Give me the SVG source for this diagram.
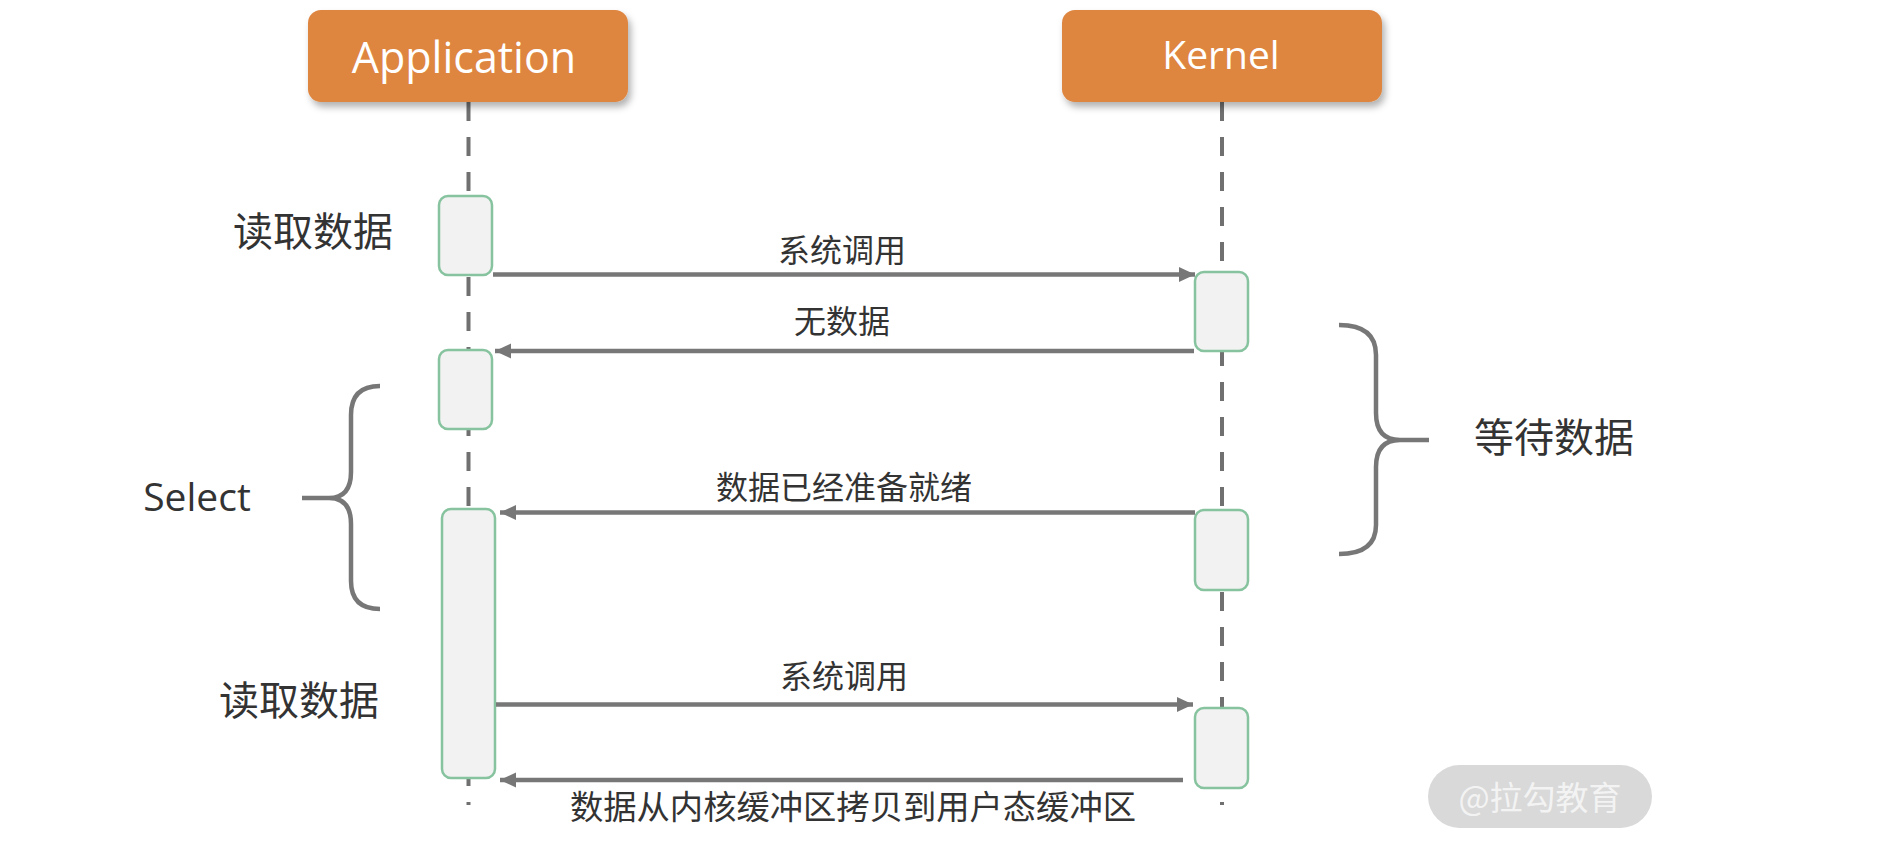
<svg xmlns="http://www.w3.org/2000/svg" width="1892" height="844" viewBox="0 0 1892 844">
<defs>
<filter id="sh" x="-10%" y="-20%" width="125%" height="150%">
<feDropShadow dx="3" dy="5" stdDeviation="3.5" flood-color="#000" flood-opacity="0.3"/>
</filter>
<marker id="ah" markerUnits="userSpaceOnUse" markerWidth="16" markerHeight="16" refX="16" refY="8" orient="auto">
<path d="M0,0.5 L16,8 L0,15.5 Z" fill="#777"/>
</marker>
<style>
.hdr{fill:#DE8540;filter:url(#sh)}
.htxt{fill:#fff;font-family:"Open Sans","Noto Sans",sans-serif;text-anchor:middle}
.life{stroke:#707070;stroke-width:4;stroke-dasharray:19 16;fill:none}
.act{fill:#f2f2f2;stroke:#86C39E;stroke-width:2.5}
.msg{stroke:#777;stroke-width:4.5;fill:none}
.brace{stroke:#777;stroke-width:4.5;fill:none;stroke-linecap:butt}
.lbl{fill:#333;font-family:"Noto Sans CJK SC","Noto Sans",sans-serif;text-anchor:middle}
.lat{fill:#333;font-family:"Open Sans","Noto Sans",sans-serif;text-anchor:middle}
</style>
</defs>
<rect width="1892" height="844" fill="#fff"/>

<g id="lifelines">
<line class="life" x1="468.5" y1="102" x2="468.5" y2="805"/>
<line class="life" x1="1222" y1="102" x2="1222" y2="805"/>
</g>

<g id="application">
<rect class="hdr" x="308" y="10" width="320" height="92" rx="13"/>
<text class="htxt" x="464" y="73" font-size="43">Application</text>
</g>
<g id="kernel">
<rect class="hdr" x="1062" y="10" width="320" height="92" rx="13"/>
<text class="htxt" x="1221" y="69" font-size="39">Kernel</text>
</g>

<g id="app-act-1"><rect class="act" x="439" y="196" width="53" height="79" rx="9"/></g>
<g id="app-act-2"><rect class="act" x="439" y="350" width="53" height="79" rx="9"/></g>
<g id="app-act-3"><rect class="act" x="442" y="509" width="53" height="269" rx="9"/></g>
<g id="k-act-1"><rect class="act" x="1195" y="272" width="53" height="79" rx="9"/></g>
<g id="k-act-2"><rect class="act" x="1195" y="510" width="53" height="80" rx="9"/></g>
<g id="k-act-3"><rect class="act" x="1195" y="708" width="53" height="80" rx="9"/></g>

<g id="connectors">
<line class="msg" x1="493" y1="274.5" x2="1195" y2="274.5" marker-end="url(#ah)"/>
<line class="msg" x1="1194" y1="351" x2="495" y2="351" marker-end="url(#ah)"/>
<line class="msg" x1="1195" y1="512.5" x2="500" y2="512.5" marker-end="url(#ah)"/>
<line class="msg" x1="496" y1="704.5" x2="1193" y2="704.5" marker-end="url(#ah)"/>
<line class="msg" x1="1183" y1="780" x2="500" y2="780" marker-end="url(#ah)"/>
</g>

<g id="labels">
<text class="lbl" x="842" y="262" font-size="32">系统调用</text>
<text class="lbl" x="842" y="333" font-size="32">无数据</text>
<text class="lbl" x="844" y="499" font-size="32">数据已经准备就绪</text>
<text class="lbl" x="844" y="688" font-size="32">系统调用</text>
<text class="lbl" x="853" y="819" font-size="33.3">数据从内核缓冲区拷贝到用户态缓冲区</text>
</g>

<g id="read-1"><text class="lbl" x="313" y="246" font-size="40">读取数据</text></g>
<g id="read-2"><text class="lbl" x="299" y="715" font-size="40">读取数据</text></g>

<g id="select">
<path class="brace" d="M380 386 Q351 386 351 415 L351 472 Q351 498 329 498 L302 498 M329 498 Q351 498 351 524 L351 581 Q351 609 380 609"/>
<text class="lat" x="197" y="511" font-size="39">Select</text>
</g>

<g id="wait">
<path class="brace" d="M1339 325 Q1376 325 1376 355 L1376 413 Q1376 440 1400 440 L1429 440 M1400 440 Q1376 440 1376 467 L1376 525 Q1376 554 1339 554"/>
<text class="lbl" x="1554" y="452" font-size="40">等待数据</text>
</g>

<g id="watermark">
<rect x="1428" y="765" width="224" height="63" rx="31.5" fill="#d9d9d9"/>
<text x="1540" y="810" font-size="33" fill="#f3f3f3" text-anchor="middle" font-family="Noto Sans CJK SC, Noto Sans, sans-serif">@拉勾教育</text>
</g>
</svg>
